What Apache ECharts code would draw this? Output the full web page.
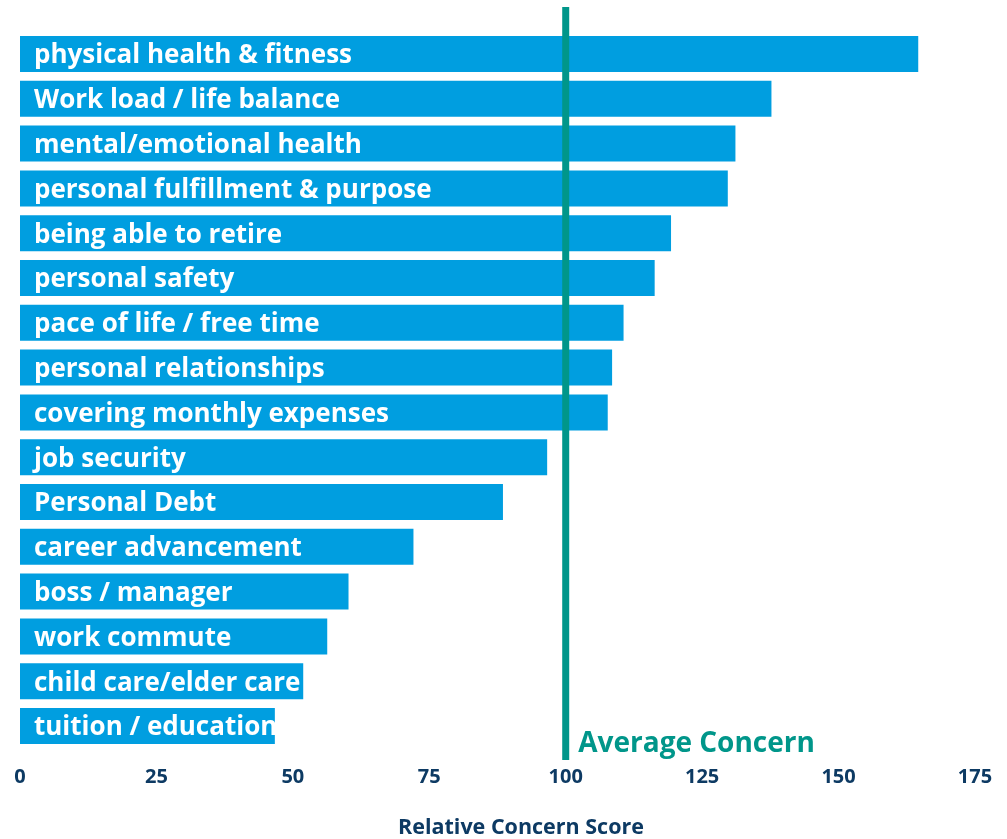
<!DOCTYPE html>
<html>
<head>
<meta charset="utf-8">
<script src="https://cdn.jsdelivr.net/npm/echarts@6/dist/echarts.min.js"></script>
<style>
  html, body { margin: 0; padding: 0; background: #ffffff; }
  #main { width: 1007px; height: 839px; }
</style>
</head>
<body>
<div id="main"></div>
<script>
// concern categories, top to bottom
const categories = [
  'physical health & fitness',
  'Work load / life balance',
  'mental/emotional health',
  'personal fulfillment & purpose',
  'being able to retire',
  'personal safety',
  'pace of life / free time',
  'personal relationships',
  'covering monthly expenses',
  'job security',
  'Personal Debt',
  'career advancement',
  'boss / manager',
  'work commute',
  'child care/elder care',
  'tuition / education'
]
const scores = [164.6, 137.7, 131.1, 129.7, 119.3, 116.3, 110.6, 108.5, 107.7, 96.6, 88.5, 72.1, 60.2, 56.3, 51.9, 46.7]
const averageScore = 100
const xTicks = [0, 25, 50, 75, 100, 125, 150, 175]

const navy = '#0d3a63'
const teal = '#00968a'
const font = '"Open Sans", "Noto Sans", sans-serif'

const chart = echarts.init(document.getElementById('main'))
const option = {
  backgroundColor: '#ffffff',
  animation: false,
  grid: [
    { left: 20, right: 32, top: 31.6, bottom: 90.6, outerBoundsMode: 'none' },
    { left: 20, right: 32, top: 7, bottom: 79, outerBoundsMode: 'none' }
  ],
  xAxis: [
    {
      type: 'value',
      gridIndex: 0,
      min: xTicks[0],
      max: xTicks[xTicks.length - 1],
      interval: 25,
      axisLine: { show: false },
      axisTick: { show: false },
      splitLine: { show: false },
      axisLabel: {
        color: navy,
        fontFamily: font,
        fontWeight: 'bold',
        fontSize: 20,
        margin: 19
      },
      name: 'Relative Concern Score',
      nameLocation: 'middle',
      nameGap: 68,
      nameTextStyle: {
        color: navy,
        fontFamily: font,
        fontWeight: 'bold',
        fontSize: 21.5,
        padding: [0, 0, 0, 47]
      }
    },
    {
      type: 'value',
      gridIndex: 1,
      min: xTicks[0],
      max: xTicks[xTicks.length - 1],
      show: false
    }
  ],
  yAxis: [
    {
      type: 'category',
      gridIndex: 0,
      data: categories,
      inverse: true,
      axisLine: { show: false },
      axisTick: { show: false },
      axisLabel: { show: false },
      splitLine: { show: false }
    },
    {
      type: 'value',
      gridIndex: 1,
      min: 0,
      max: 1,
      show: false
    }
  ],
  series: [
    {
      type: 'bar',
      xAxisIndex: 0,
      yAxisIndex: 0,
      data: scores,
      barCategoryGap: '19.6%',
      itemStyle: { color: '#009ee0' },
      label: {
        show: true,
        position: 'insideLeft',
        distance: 14,
        offset: [0, 2],
        formatter: '{b}',
        color: '#ffffff',
        fontFamily: font,
        fontWeight: 'bold',
        fontSize: 26
      },
      z: 2
    },
    {
      // average line
      type: 'line',
      xAxisIndex: 1,
      yAxisIndex: 1,
      data: [[averageScore, 1], [averageScore, 0]],
      symbol: 'none',
      lineStyle: { color: teal, width: 7 },
      z: 3
    },
    {
      type: 'scatter',
      xAxisIndex: 1,
      yAxisIndex: 1,
      data: [[averageScore, 0]],
      symbolSize: 1,
      itemStyle: { color: 'rgba(0,0,0,0)', opacity: 1 },
      label: {
        show: true,
        position: 'right',
        distance: 12,
        offset: [0, -16],
        formatter: 'Average Concern',
        color: teal,
        fontFamily: font,
        fontWeight: 'bold',
        fontSize: 28
      },
      z: 4
    }
  ]
}
chart.setOption(option)
</script>
</body>
</html>
